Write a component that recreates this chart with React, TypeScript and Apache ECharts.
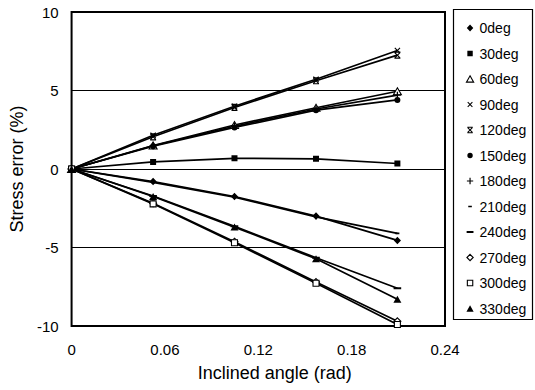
import React, { useEffect, useRef } from "react";
import * as echarts from "echarts";

// Inclination angles (rad): 0, 3, 6, 9, 12 deg
const angles = [0, 0.0524, 0.1047, 0.1571, 0.2094];

const seriesNames = [
  "0deg", "30deg", "60deg", "90deg", "120deg", "150deg",
  "180deg", "210deg", "240deg", "270deg", "300deg", "330deg",
];

const v0 = [0, -0.8, -1.75, -3.0, -4.55];
const v30 = [0, 0.45, 0.68, 0.65, 0.35];
const v60 = [0, 1.5, 2.8, 3.9, 4.95];
const v90 = [0, 2.15, 4.0, 5.72, 7.55];
const v120 = [0, 2.05, 3.92, 5.62, 7.25];
const v150 = [0, 1.45, 2.65, 3.75, 4.4];
const v180 = [0, 1.48, 2.72, 3.82, 4.7];
const v210 = [0, -0.85, -1.8, -3.05, -4.1];
const v240 = [0, -1.72, -3.65, -5.65, -7.6];
const v270 = [0, -2.18, -4.63, -7.2, -9.7];
const v300 = [0, -2.22, -4.7, -7.28, -9.9];
const v330 = [0, -1.75, -3.7, -5.72, -8.3];

const values = [v0, v30, v60, v90, v120, v150, v180, v210, v240, v270, v300, v330];

const xTicks = { min: 0, max: 0.24, interval: 0.06 };
const yTicks = { min: -10, max: 10, interval: 5 };

const FONT = "'Liberation Sans', Arial, Helvetica, sans-serif";

// symbol paths in a fixed 10x10 frame (degenerate corner points fix the frame)
const FRAME = "M0,0L0,0ZM10,10L10,10Z";
const X_SHAPE = "M2,2.8L2.8,2L5,4.2L7.2,2L8,2.8L5.8,5L8,7.2L7.2,8L5,5.8L2.8,8L2,7.2L4.2,5Z";
const symbolPaths = [
  FRAME + "M5,1.2L8.6,5L5,8.8L1.4,5Z", // diamond filled
  FRAME + "M2,2H8V8H2Z", // square filled
  FRAME + "M5,1.5L9,8.5H1Z", // triangle open
  FRAME + X_SHAPE, // cross
  FRAME + X_SHAPE + "M2,1.4H8V2.6H2ZM2,7.4H8V8.6H2Z", // cross with bars
  FRAME + "M8,5A3,3,0,1,1,2,5A3,3,0,1,1,8,5Z", // circle filled
  FRAME + "M4.35,1.5H5.65V4.35H8.5V5.65H5.65V8.5H4.35V5.65H1.5V4.35H4.35Z", // plus
  FRAME + "M3,4.2H7V5.8H3Z", // short dash
  FRAME + "M1.2,4H8.8V6H1.2Z", // long dash
  FRAME + "M5,1.5L8.5,5L5,8.5L1.5,5Z", // diamond open
  FRAME + "M2,2H8V8H2Z", // square open
  FRAME + "M5,1.5L9,8.5H1Z", // triangle filled
];
const openSymbol = [false, false, true, false, false, false, false, false, false, true, true, false];

export default function App() {
  const ref = useRef<HTMLDivElement>(null);

  useEffect(() => {
    if (!ref.current) return;
    const chart = echarts.init(ref.current, undefined, { renderer: "svg" });

    const styleFor = (i: number) =>
      openSymbol[i]
        ? { color: "#fff", borderColor: "#000", borderWidth: 1.1 }
        : { color: "#000", borderColor: "#000", borderWidth: 0 };

    const series = seriesNames.map((name, i) => ({
      name,
      type: "line",
      data: angles.map((a, k) => [a, values[i][k]]),
      symbol: "path://" + symbolPaths[i],
      symbolSize: 10,
      showSymbol: true,
      lineStyle: { color: "#000", width: 1.7 },
      itemStyle: styleFor(i),
      emphasis: { disabled: true },
      silent: true,
      z: 3,
    }));

    chart.setOption({
      animation: false,
      backgroundColor: "#fff",
      textStyle: { fontFamily: FONT, color: "#000" },
      grid: {
        left: 70,
        right: 90,
        top: 12,
        bottom: 64,
        show: true,
        borderColor: "#000",
        borderWidth: 2,
        backgroundColor: "transparent",
      },
      xAxis: {
        type: "value",
        min: xTicks.min,
        max: xTicks.max,
        interval: xTicks.interval,
        axisLine: { show: false },
        axisTick: { show: false },
        splitLine: { show: false },
        axisLabel: {
          margin: 16,
          fontSize: 15,
          color: "#000",
          fontFamily: FONT,
          formatter: (v: number) => (v === 0 ? "0" : String(Math.round(v * 100) / 100)),
        },
        name: "Inclined angle (rad)",
        nameLocation: "middle",
        nameGap: 38,
        nameTextStyle: { fontSize: 18, color: "#000", fontFamily: FONT, padding: [0, 0, 0, 33] },
      },
      yAxis: {
        type: "value",
        min: yTicks.min,
        max: yTicks.max,
        interval: yTicks.interval,
        axisLine: { show: false },
        axisTick: { show: false },
        splitLine: { show: true, lineStyle: { color: "#000", width: 1 } },
        axisLabel: { margin: 13, fontSize: 15, color: "#000", fontFamily: FONT },
        name: "Stress error (%)",
        nameLocation: "middle",
        nameGap: 44,
        nameTextStyle: { fontSize: 18, color: "#000", fontFamily: FONT },
      },
      legend: {
        orient: "vertical",
        left: 465,
        top: 21,
        padding: 0,
        itemWidth: 9,
        itemHeight: 9,
        itemGap: 11.5,
        selectedMode: false,
        textStyle: { fontSize: 14, color: "#000", fontFamily: FONT, lineHeight: 14 },
        data: seriesNames.map((name, i) => ({
          name,
          icon: "path://" + symbolPaths[i],
          itemStyle: styleFor(i),
        })),
      },
      graphic: [
        {
          type: "rect",
          shape: { x: 453.5, y: 9.5, width: 79, height: 310 },
          style: { fill: "none", stroke: "#000", lineWidth: 1.2 },
          silent: true,
          z: 0,
        },
      ],
      series,
    });

    return () => chart.dispose();
  }, []);

  return (
    <div
      ref={ref}
      style={{ position: "absolute", left: 0, top: 0, width: 535, height: 390 }}
    />
  );
}
